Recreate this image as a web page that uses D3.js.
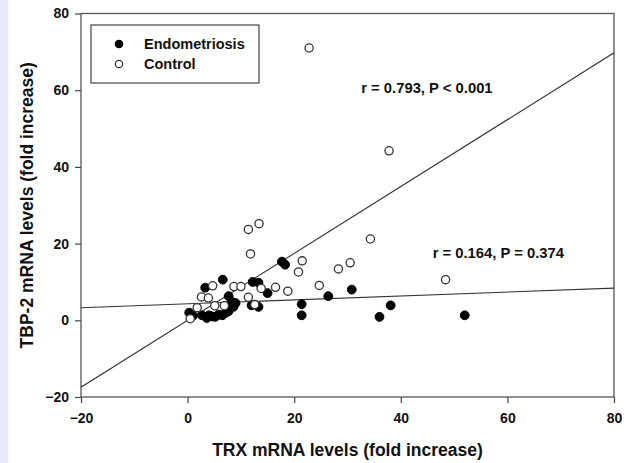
<!DOCTYPE html>
<html>
<head>
<meta charset="utf-8">
<script src="https://cdnjs.cloudflare.com/ajax/libs/d3/7.8.5/d3.min.js"></script>
<style>
  body { margin: 0; background: #fff; }
  text { font-family: "Liberation Sans", Arial, sans-serif; font-weight: bold; fill: #111; }
</style>
</head>
<body>
<div id="chart"></div>
<script>
// datos (fold increase)
const endoX = [0.3, 1.0, 2.7, 3.3, 3.6, 4.0, 4.6, 5.2, 5.8, 6.5, 6.6, 7.2, 7.7, 7.7, 8.3, 8.6, 9.0,
               12.0, 12.2, 13.3, 13.3, 15.0, 17.7, 18.3, 21.4, 21.4, 26.4, 30.8, 36.0, 38.1, 52.0]
const endoY = [2.0, 1.2, 1.3, 8.5, 0.6, 1.3, 1.0, 0.9, 1.5, 1.3, 10.6, 2.0, 6.3, 2.4, 4.8, 3.5, 4.5,
               3.9, 10.0, 9.8, 3.5, 7.1, 15.3, 14.5, 4.2, 1.3, 6.3, 8.0, 0.9, 3.9, 1.3]

const ctrlX = [0.5, 1.8, 2.6, 3.9, 4.7, 5.1, 6.9, 8.7, 10.0, 11.4, 11.4, 11.8, 12.6, 13.4, 13.8,
               16.5, 18.8, 20.8, 21.5, 22.8, 24.7, 28.3, 30.5, 34.3, 37.8, 48.4]
const ctrlY = [0.4, 3.3, 6.1, 5.8, 9.0, 3.8, 3.8, 8.8, 8.8, 6.0, 23.7, 17.3, 4.1, 25.2, 8.3,
               8.6, 7.6, 12.6, 15.5, 71.0, 9.1, 13.4, 15.0, 21.2, 44.2, 10.6]

// rectas de regresión (ordenada, pendiente)
const fitNames = ["Control", "Endometriosis"]
const fitIntercept = [0.0, 4.3]
const fitSlope = [0.872, 0.051]
const fitLabels = ["r = 0.793, P < 0.001", "r = 0.164, P = 0.374"]
const fitLabelX = [44.9, 58.3]
const fitLabelY = [60.6, 17.6]

const xTicks = [-20, 0, 20, 40, 60, 80]
const yTicks = [-20, 0, 20, 40, 60, 80]
const legendNames = ["Endometriosis", "Control"]

const width = 631
const height = 463
const margin = { top: 13.5, bottom: 66, left: 81, right: 17 }
const innerW = width - margin.left - margin.right
const innerH = height - margin.top - margin.bottom

const svg = d3.select("div#chart").append("svg").attr("width", width).attr("height", height)

// franja azul de la izquierda
svg.append("rect").attr("x", 0).attr("y", 0).attr("width", 8.3).attr("height", height).attr("fill", "#e4eaf6")

const x = d3.scaleLinear().domain([-20, 80]).range([0, innerW])
const y = d3.scaleLinear().domain([-20, 80]).range([innerH, 0])

const plot = svg.append("g").attr("transform", `translate(${margin.left},${margin.top})`)

svg.append("defs").append("clipPath").attr("id", "clip")
    .append("rect").attr("width", innerW).attr("height", innerH)

// ejes
const xAxis = d3.axisBottom(x).tickValues(xTicks).tickSize(6).tickSizeOuter(0).tickPadding(10)
const yAxis = d3.axisLeft(y).tickValues(yTicks).tickSize(6).tickSizeOuter(0).tickPadding(6)

const xAxisGroup = plot.append("g").attr("transform", `translate(0,${innerH})`).call(xAxis)
const yAxisGroup = plot.append("g").call(yAxis)
;[xAxisGroup, yAxisGroup].forEach(g => {
    g.select(".domain").remove()
    g.selectAll("line").attr("stroke", "#444").attr("stroke-width", 1.2)
    g.selectAll("text").style("font-size", "14px").style("font-family", "Liberation Sans, Arial, sans-serif")
        .style("font-weight", "bold").attr("fill", "#111")
})

// marco
plot.append("rect").attr("width", innerW).attr("height", innerH)
    .attr("fill", "none").attr("stroke", "#555").attr("stroke-width", 1.3)

// rectas
const lines = plot.append("g").attr("clip-path", "url(#clip)")
fitNames.forEach((n, i) => {
    const [x0, x1] = x.domain()
    lines.append("line")
        .attr("x1", x(x0)).attr("y1", y(fitIntercept[i] + fitSlope[i] * x0))
        .attr("x2", x(x1)).attr("y2", y(fitIntercept[i] + fitSlope[i] * x1))
        .attr("stroke", "#333").attr("stroke-width", 1.1)
})

fitLabels.forEach((t, i) => {
    plot.append("text").attr("x", x(fitLabelX[i])).attr("y", y(fitLabelY[i]))
        .attr("dy", "0.35em").attr("text-anchor", "middle").style("font-size", "14.8px").text(t)
})

// puntos
const endo = endoX.map((d, i) => ({ x: d, y: endoY[i] }))
const ctrl = ctrlX.map((d, i) => ({ x: d, y: ctrlY[i] }))

plot.append("g").selectAll("circle").data(endo).enter().append("circle")
    .attr("cx", d => x(d.x)).attr("cy", d => y(d.y)).attr("r", 4.4)
    .attr("fill", "#000").attr("stroke", "#000").attr("stroke-width", 1)

plot.append("g").selectAll("circle").data(ctrl).enter().append("circle")
    .attr("cx", d => x(d.x)).attr("cy", d => y(d.y)).attr("r", 4.1)
    .attr("fill", "#fff").attr("stroke", "#333").attr("stroke-width", 1.3)

// leyenda
const legend = svg.append("g").attr("transform", "translate(91,25)")
legend.append("rect").attr("width", 168).attr("height", 58)
    .attr("fill", "#fff").attr("stroke", "#444").attr("stroke-width", 1.2)
legendNames.forEach((n, i) => {
    legend.append("circle").attr("cx", 28).attr("cy", 19 + i * 20).attr("r", 3.7)
        .attr("fill", i === 0 ? "#000" : "#fff").attr("stroke", i === 0 ? "#000" : "#333").attr("stroke-width", 1.2)
    legend.append("text").attr("x", 53).attr("y", 19 + i * 20).attr("dy", "0.35em")
        .style("font-size", "14.5px").text(n)
})

// títulos de ejes
svg.append("text").attr("x", margin.left + innerW / 2).attr("y", 456)
    .attr("text-anchor", "middle").style("font-size", "17.5px").text("TRX mRNA levels (fold increase)")

svg.append("text").attr("transform", `translate(27,${margin.top + innerH / 2}) rotate(-90)`)
    .attr("dy", "0.35em").attr("text-anchor", "middle").style("font-size", "17.5px")
    .text("TBP-2 mRNA levels (fold increase)")
</script>
</body>
</html>
